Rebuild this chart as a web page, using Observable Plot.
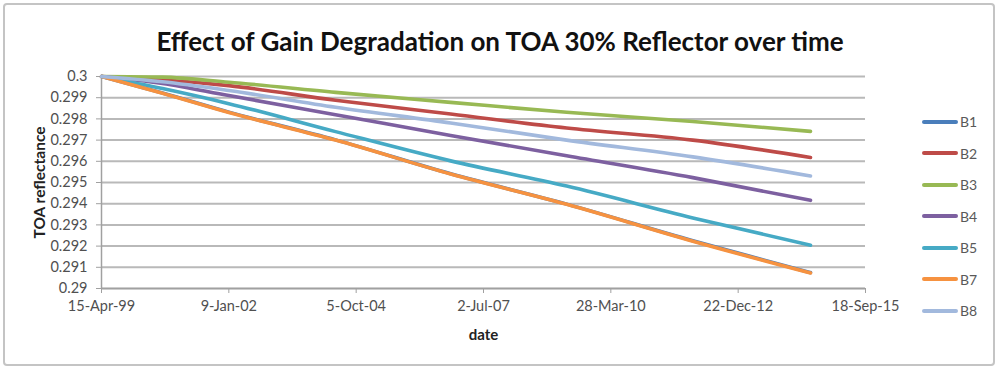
<!DOCTYPE html>
<html>
<head>
<meta charset="utf-8">
<script src="https://cdn.jsdelivr.net/npm/d3@7"></script>
<script src="https://cdn.jsdelivr.net/npm/@observablehq/plot@0.6"></script>
<style>
  body { margin: 0; background: #fff; font-family: Lato, "Open Sans", sans-serif; }
  #wrap { position: relative; width: 1000px; height: 369px; overflow: hidden; }
  #frame { position: absolute; left: 3px; top: 3px; width: 988px; height: 359px; border: 2px solid #c4c4c4; border-radius: 4px; }
  #title { position: absolute; left: 0; top: 25px; width: 1000px; text-align: center; font: bold 26px Lato, sans-serif; color: #111; z-index: 2; }
  #chart { position: absolute; left: 0; top: 0; }
  #legend { position: absolute; left: 922px; top: 106px; z-index: 2; }
  .li { height: 31.5px; display: flex; align-items: center; font: 14px Lato, sans-serif; color: #595959; }
  .sw { width: 36px; height: 4px; border-radius: 2px; margin-right: 2px; }
</style>
</head>
<body>
<div id="wrap">
  <div id="frame"></div>
  <div id="chart"></div>
  <div id="title">Effect of Gain Degradation on TOA 30% Reflector over time</div>
  <div id="legend"></div>
</div>
<script>
// ---- data ----
const dates = ["1999-04-15","2000-08-06","2002-01-09","2004-04-26","2006-10-17","2009-04-15","2012-01-01","2014-07-13"];
const seriesNames = ["B1","B2","B3","B4","B5","B7","B8"];
const B1 = [0.3, 0.29922, 0.29832, 0.29701, 0.29541, 0.29398, 0.29225, 0.29075];
const B2 = [0.3, 0.29985, 0.29957, 0.29888, 0.29823, 0.29757, 0.29700, 0.29618];
const B3 = [0.3, 0.29997, 0.29973, 0.29925, 0.29878, 0.29831, 0.29788, 0.29741];
const B4 = [0.3, 0.29967, 0.29910, 0.29820, 0.29722, 0.29626, 0.29523, 0.29416];
const B5 = [0.3, 0.29943, 0.29872, 0.29740, 0.29602, 0.29483, 0.29333, 0.29204];
const B7 = [0.3, 0.29921, 0.29830, 0.29700, 0.29540, 0.29397, 0.29223, 0.29073];
const B8 = [0.3, 0.29975, 0.29934, 0.29855, 0.29781, 0.29700, 0.29621, 0.29531];
const colors = ["#4A7EBB","#BE4B48","#98B954","#7D60A0","#46AAC5","#F69240","#A2B9DD"];
const xTicks = ["1999-04-15","2002-01-09","2004-10-05","2007-07-02","2010-03-28","2012-12-22","2015-09-18"];
const yTicks = [0.29,0.291,0.292,0.293,0.294,0.295,0.296,0.297,0.298,0.299,0.3];

const valuesBySeries = {B1, B2, B3, B4, B5, B7, B8};
const table = [];
for (const s of seriesNames) {
  valuesBySeries[s].forEach((v, i) => table.push({series: s, date: new Date(dates[i] + "T00:00:00Z"), value: v}));
}
const xt = xTicks.map(d => new Date(d + "T00:00:00Z"));
const fmtDate = d3.utcFormat("%-d-%b-%y");
const axisColor = "#a0a0a0";

const chart = Plot.plot({
  width: 1000, height: 369,
  marginLeft: 101, marginRight: 135, marginTop: 76, marginBottom: 81,
  style: {background: "transparent", fontFamily: "Lato, sans-serif"},
  x: {type: "utc", domain: [xt[0], xt[xt.length - 1]]},
  y: {domain: [0.29, 0.3]},
  color: {domain: seriesNames, range: colors},
  marks: [
    Plot.gridY(yTicks, {stroke: "#b9b9b9", strokeOpacity: 1, strokeWidth: 2}),
    Plot.ruleX([xt[0]], {stroke: axisColor, strokeWidth: 1.5}),
    Plot.ruleY([0.29], {stroke: axisColor, strokeWidth: 1.5}),
    Plot.axisY(yTicks, {tickSize: 5, tickPadding: 9, stroke: axisColor, fill: "#505050", fontSize: 14.5, label: null,
      tickFormat: d => String(+d.toFixed(3))}),
    Plot.axisX(xt, {tickSize: 5, tickPadding: 7, stroke: axisColor, fill: "#505050", fontSize: 14.5, label: null,
      tickFormat: fmtDate}),
    Plot.line(table, {x: "date", y: "value", z: "series", stroke: "series", strokeWidth: 3.6, curve: "monotone-x", strokeLinejoin: "round", strokeLinecap: "round"}),
    Plot.text(["TOA reflectance"], {frameAnchor: "left", textAnchor: "middle", lineAnchor: "middle", dx: -61, rotate: -90, fontWeight: "bold", fontSize: 15.5, fill: "#222"}),
    Plot.text(["date"], {frameAnchor: "bottom", textAnchor: "middle", lineAnchor: "middle", dy: 47, fontWeight: "bold", fontSize: 15, fill: "#222"})
  ]
});
document.getElementById("chart").appendChild(chart);

const legend = document.getElementById("legend");
seriesNames.forEach((s, i) => {
  const row = document.createElement("div");
  row.className = "li";
  row.innerHTML = `<span class="sw" style="background:${colors[i]}"></span><span>${s}</span>`;
  legend.appendChild(row);
});
</script>
</body>
</html>
